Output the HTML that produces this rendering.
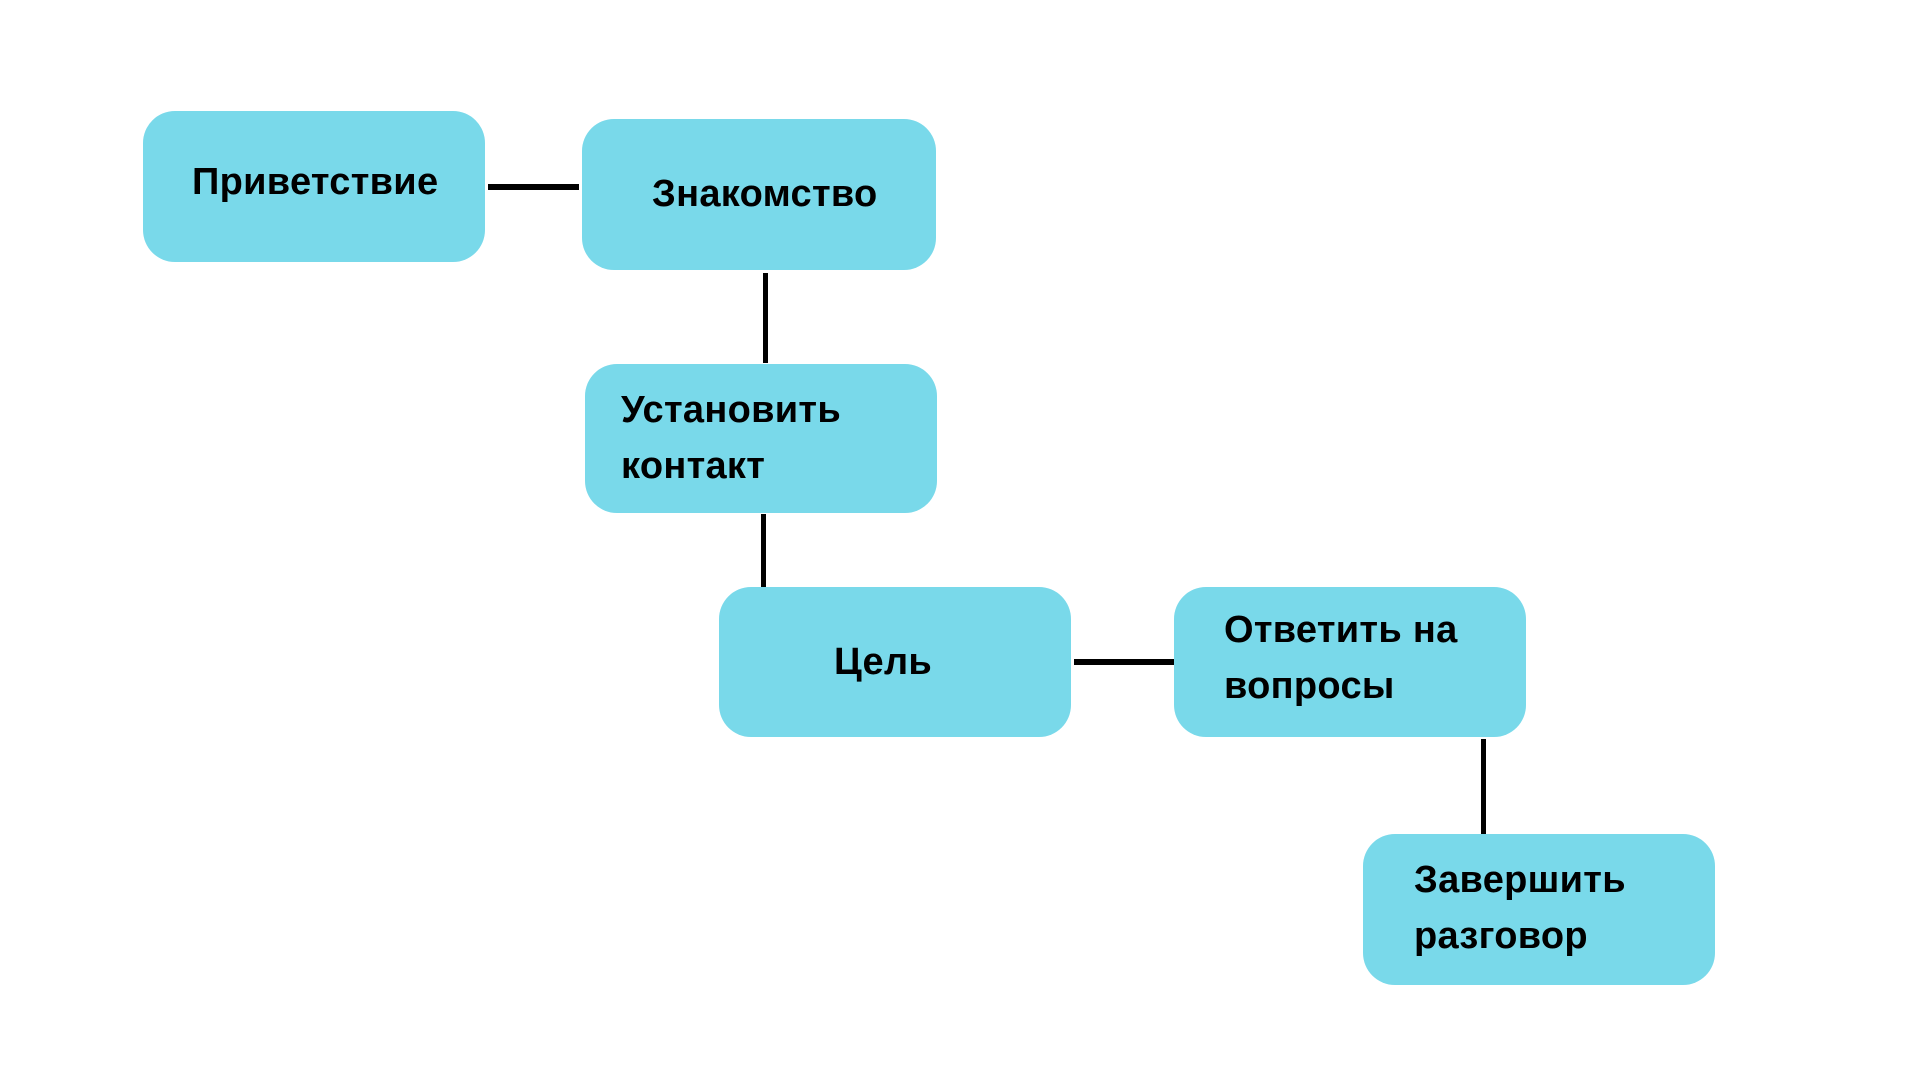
<!DOCTYPE html>
<html><head><meta charset="utf-8"><style>
body{margin:0;width:1920px;height:1080px;background:#fff;position:relative;overflow:hidden;font-family:"Liberation Sans","DejaVu Sans",sans-serif;}
.b{position:absolute;background:#79d9ea;border-radius:32px;}
.t{position:absolute;font-weight:bold;font-size:38px;color:#000;white-space:nowrap;line-height:56px;letter-spacing:0.3px;}
.l{position:absolute;background:#000;}
</style></head><body>
<div class="b" style="left:143px;top:111px;width:342px;height:151px"></div>
<div class="b" style="left:582px;top:119px;width:354px;height:151px"></div>
<div class="b" style="left:585px;top:364px;width:352px;height:149px"></div>
<div class="b" style="left:719px;top:587px;width:352px;height:150px"></div>
<div class="b" style="left:1174px;top:587px;width:352px;height:150px"></div>
<div class="b" style="left:1363px;top:834px;width:352px;height:151px"></div>

<div class="l" style="left:488px;top:184px;width:91px;height:6px"></div>
<div class="l" style="left:763px;top:273px;width:5px;height:90px"></div>
<div class="l" style="left:761px;top:514px;width:5px;height:73px"></div>
<div class="l" style="left:1074px;top:659px;width:100px;height:6px"></div>
<div class="l" style="left:1481px;top:739px;width:5px;height:95px"></div>

<div class="t" style="left:192px;top:154px">Приветствие</div>
<div class="t" style="left:652px;top:166px">Знакомство</div>
<div class="t" style="left:621px;top:382px">Установить<br>контакт</div>
<div class="t" style="left:834px;top:634px">Цель</div>
<div class="t" style="left:1224px;top:602px">Ответить на<br>вопросы</div>
<div class="t" style="left:1414px;top:852px">Завершить<br>разговор</div>
</body></html>
